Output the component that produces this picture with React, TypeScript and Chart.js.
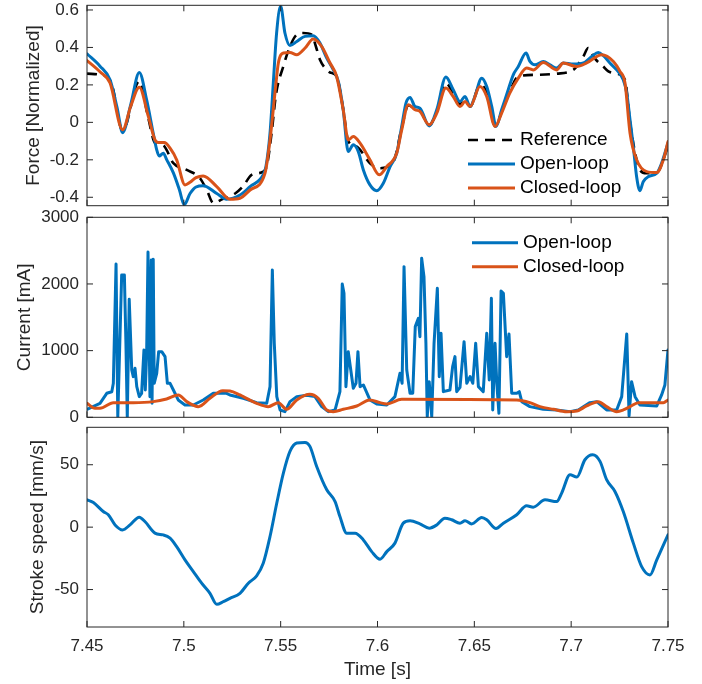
import React, { useEffect, useRef } from 'react';
import { Chart, registerables } from 'chart.js';

Chart.register(...registerables);

const FONT = '"Liberation Sans", Arial, Helvetica, sans-serif';
const AX = '#262626';
const BLUE = '#0072BD';
const ORANGE = '#D95319';

// ---- tick labels ----
const timeTicks = [7.45, 7.5, 7.55, 7.6, 7.65, 7.7, 7.75];
const forceTicks = [-0.4, -0.2, 0, 0.2, 0.4, 0.6];
const currentTicks = [0, 1000, 2000, 3000];
const speedTicks = [-50, 0, 50];

// ---- Force [Normalized] ----
const refForceT = [7.45, 7.4567, 7.461, 7.4629, 7.4684, 7.477, 7.4815, 7.4851, 7.4894, 7.4946, 7.5015, 7.5083, 7.5118, 7.5152, 7.52, 7.5265, 7.5307, 7.535, 7.541, 7.5429, 7.5454, 7.5476, 7.5514, 7.5548, 7.5583, 7.5617, 7.566, 7.5682, 7.5703, 7.5729, 7.5755, 7.5789, 7.5823, 7.5849, 7.5893, 7.5961, 7.6009, 7.6082, 7.6125, 7.6159, 7.6194, 7.6219, 7.6267, 7.6306, 7.6353, 7.6391, 7.6426, 7.6452, 7.6478, 7.6529, 7.6564, 7.6607, 7.6641, 7.6683, 7.6727, 7.6822, 7.6925, 7.7011, 7.7063, 7.7088, 7.7123, 7.7166, 7.7192, 7.7235, 7.7278, 7.7304, 7.7338, 7.7355, 7.739, 7.7442, 7.75];
const refForce = [0.26, 0.254, 0.236, 0.2, -0.045, 0.22, 0.03, -0.11, -0.124, -0.218, -0.254, -0.298, -0.36, -0.43, -0.41, -0.38, -0.34, -0.28, -0.263, -0.23, -0.05, 0.15, 0.3, 0.405, 0.468, 0.477, 0.468, 0.405, 0.334, 0.29, 0.266, 0.245, 0.07, -0.1, -0.13, -0.218, -0.245, -0.21, -0.03, 0.09, 0.075, 0.065, -0.015, 0.06, 0.21, 0.155, 0.097, 0.125, 0.084, 0.2, 0.16, -0.02, 0.055, 0.165, 0.245, 0.254, 0.26, 0.28, 0.352, 0.397, 0.34, 0.298, 0.272, 0.26, 0.227, 0.0, -0.2, -0.254, -0.272, -0.268, -0.13];

const openForceT = [7.45, 7.4567, 7.4619, 7.4655, 7.4684, 7.4727, 7.477, 7.4808, 7.4842, 7.486, 7.4873, 7.4894, 7.4912, 7.4946, 7.4977, 7.5002, 7.5032, 7.5063, 7.51, 7.517, 7.5221, 7.529, 7.5342, 7.541, 7.5424, 7.5445, 7.5462, 7.5479, 7.55, 7.5522, 7.5548, 7.5583, 7.5626, 7.5668, 7.5703, 7.5738, 7.5772, 7.5798, 7.5823, 7.5849, 7.5875, 7.5901, 7.5927, 7.5961, 7.5996, 7.603, 7.6065, 7.6099, 7.6125, 7.6147, 7.6168, 7.6194, 7.6219, 7.6267, 7.6306, 7.6353, 7.6391, 7.6426, 7.6452, 7.6478, 7.6503, 7.6538, 7.6564, 7.659, 7.6612, 7.6641, 7.6675, 7.6701, 7.6727, 7.6767, 7.6787, 7.6813, 7.6856, 7.6891, 7.6925, 7.6959, 7.7011, 7.7063, 7.7106, 7.714, 7.7166, 7.72, 7.7235, 7.7269, 7.7287, 7.7304, 7.7321, 7.7338, 7.7355, 7.7372, 7.7398, 7.7442, 7.7467, 7.75];
const openForce = [0.366, 0.3, 0.227, 0.08, -0.055, 0.1, 0.266, 0.12, -0.058, -0.147, -0.18, -0.165, -0.2, -0.27, -0.36, -0.44, -0.38, -0.345, -0.338, -0.38, -0.41, -0.388, -0.343, -0.28, -0.236, -0.058, 0.21, 0.477, 0.62, 0.477, 0.41, 0.432, 0.459, 0.462, 0.423, 0.343, 0.28, 0.218, 0.067, -0.156, -0.12, -0.156, -0.254, -0.334, -0.365, -0.325, -0.236, -0.165, -0.022, 0.103, 0.133, 0.084, 0.076, -0.019, 0.067, 0.242, 0.174, 0.111, 0.138, 0.084, 0.138, 0.236, 0.191, 0.084, -0.022, 0.067, 0.174, 0.254, 0.298, 0.37, 0.325, 0.307, 0.325, 0.307, 0.29, 0.317, 0.311, 0.317, 0.352, 0.373, 0.356, 0.317, 0.28, 0.227, 0.156, 0.013, -0.13, -0.29, -0.365, -0.317, -0.29, -0.272, -0.218, -0.11];

const closedForceT = [7.45, 7.4567, 7.4619, 7.4684, 7.4727, 7.477, 7.4817, 7.4851, 7.4868, 7.4899, 7.4929, 7.4963, 7.5006, 7.5032, 7.5063, 7.51, 7.517, 7.5238, 7.529, 7.5342, 7.5419, 7.5445, 7.5474, 7.5488, 7.5514, 7.5548, 7.5583, 7.5626, 7.5668, 7.5712, 7.5755, 7.5789, 7.5823, 7.5849, 7.5875, 7.591, 7.5961, 7.6009, 7.6048, 7.6099, 7.6125, 7.6159, 7.6194, 7.6219, 7.6267, 7.6306, 7.6353, 7.6391, 7.6426, 7.6452, 7.6478, 7.6529, 7.6564, 7.6607, 7.6641, 7.6683, 7.6727, 7.677, 7.6804, 7.6856, 7.6925, 7.6959, 7.7028, 7.708, 7.7158, 7.7218, 7.7252, 7.7278, 7.7304, 7.7338, 7.739, 7.7442, 7.7476, 7.75];
const closedForce = [0.33, 0.27, 0.21, -0.04, 0.09, 0.188, 0.031, -0.094, -0.108, -0.108, -0.138, -0.2, -0.334, -0.32, -0.295, -0.286, -0.343, -0.41, -0.405, -0.361, -0.272, -0.094, 0.191, 0.317, 0.37, 0.373, 0.361, 0.397, 0.445, 0.405, 0.317, 0.245, 0.067, -0.094, -0.076, -0.111, -0.2, -0.28, -0.236, -0.165, -0.04, 0.094, 0.067, 0.058, -0.013, 0.049, 0.183, 0.138, 0.084, 0.111, 0.084, 0.191, 0.138, -0.022, 0.049, 0.156, 0.236, 0.29, 0.28, 0.32, 0.28, 0.317, 0.298, 0.317, 0.361, 0.325, 0.272, 0.21, -0.058, -0.2, -0.263, -0.268, -0.2, -0.103];

// ---- Current [mA] ----
const openCurrentT = [7.45, 7.4567, 7.4602, 7.4628, 7.4636, 7.465, 7.4659, 7.4679, 7.4693, 7.4701, 7.4708, 7.4718, 7.4731, 7.4739, 7.4748, 7.4757, 7.477, 7.4782, 7.4794, 7.4801, 7.4808, 7.4815, 7.4825, 7.4832, 7.4836, 7.4842, 7.4847, 7.486, 7.487, 7.4886, 7.4903, 7.4915, 7.4929, 7.4946, 7.4971, 7.5006, 7.5049, 7.51, 7.5152, 7.5221, 7.5238, 7.5307, 7.5376, 7.5428, 7.5445, 7.5457, 7.5467, 7.548, 7.5497, 7.5522, 7.5548, 7.5583, 7.5634, 7.5677, 7.5712, 7.5746, 7.5781, 7.5806, 7.5818, 7.5827, 7.5837, 7.5849, 7.5862, 7.5875, 7.5889, 7.5899, 7.591, 7.5927, 7.5961, 7.5996, 7.6048, 7.609, 7.6116, 7.6127, 7.6137, 7.6151, 7.6168, 7.6182, 7.6195, 7.6211, 7.6219, 7.6228, 7.624, 7.625, 7.6257, 7.6267, 7.628, 7.6292, 7.6309, 7.6319, 7.6328, 7.634, 7.6374, 7.6388, 7.64, 7.6409, 7.6426, 7.6447, 7.6461, 7.6478, 7.6492, 7.6507, 7.6521, 7.6546, 7.6564, 7.6577, 7.6588, 7.6595, 7.6607, 7.6616, 7.6627, 7.6638, 7.665, 7.6667, 7.6679, 7.6693, 7.6719, 7.6732, 7.6745, 7.6787, 7.6856, 7.6925, 7.6994, 7.7037, 7.7097, 7.7132, 7.7183, 7.7235, 7.7261, 7.7287, 7.7299, 7.7312, 7.733, 7.7355, 7.7442, 7.7467, 7.7484, 7.75];
const openCurrent = [120, 210, 360, 384, 510, 2300, 10, 2135, 2135, 1110, 0, 1770, 710, 610, 735, 460, 310, 360, 1010, 410, 960, 2480, 310, 2360, 210, 2370, 510, 660, 985, 985, 910, 510, 510, 410, 260, 185, 185, 260, 360, 360, 335, 285, 220, 210, 460, 2210, 1110, 310, 110, 85, 235, 310, 330, 310, 160, 85, 110, 385, 2000, 1860, 460, 985, 710, 435, 510, 985, 460, 485, 260, 200, 185, 310, 660, 510, 2260, 710, 360, 360, 1360, 1485, 1210, 2385, 2110, 1110, 10, 535, 10, 1110, 1935, 610, 1260, 385, 410, 760, 910, 385, 450, 1135, 510, 610, 510, 1110, 460, 385, 1260, 560, 1785, 110, 1110, 510, 60, 1895, 1860, 910, 1250, 360, 360, 385, 235, 160, 120, 110, 85, 110, 220, 235, 110, 110, 310, 1250, 20, 535, 310, 185, 170, 335, 485, 1010];

const closedCurrentT = [7.45, 7.4541, 7.4567, 7.4636, 7.4739, 7.4842, 7.4911, 7.4971, 7.5015, 7.5075, 7.5135, 7.5201, 7.5238, 7.529, 7.5307, 7.5376, 7.5436, 7.5488, 7.5531, 7.5583, 7.5651, 7.5694, 7.5738, 7.5772, 7.5823, 7.5893, 7.5961, 7.6013, 7.6048, 7.6125, 7.6719, 7.6787, 7.6839, 7.6908, 7.6977, 7.7029, 7.708, 7.714, 7.7183, 7.7235, 7.7269, 7.7304, 7.7347, 7.7476, 7.75];
const closedCurrent = [210, 135, 135, 220, 220, 235, 275, 335, 235, 160, 285, 400, 395, 335, 310, 210, 160, 220, 120, 260, 345, 285, 110, 85, 120, 170, 260, 220, 200, 270, 260, 220, 160, 120, 85, 95, 170, 235, 160, 85, 110, 160, 220, 220, 260];

// ---- Stroke speed [mm/s] ----
const speedT = [7.45, 7.4533, 7.4584, 7.461, 7.4645, 7.4684, 7.4722, 7.477, 7.4799, 7.4851, 7.4894, 7.4929, 7.4963, 7.5006, 7.5049, 7.5092, 7.5135, 7.517, 7.5204, 7.5238, 7.529, 7.5333, 7.5376, 7.541, 7.5445, 7.548, 7.5514, 7.5548, 7.5583, 7.5626, 7.5651, 7.5686, 7.5738, 7.5781, 7.5806, 7.5841, 7.5884, 7.5927, 7.597, 7.6013, 7.6048, 7.609, 7.6133, 7.6168, 7.6219, 7.6267, 7.6306, 7.6348, 7.6383, 7.6426, 7.6452, 7.6486, 7.6538, 7.6564, 7.6612, 7.665, 7.6719, 7.677, 7.6804, 7.6865, 7.6925, 7.6951, 7.6994, 7.7029, 7.7071, 7.7111, 7.7149, 7.7183, 7.7226, 7.7269, 7.7321, 7.7364, 7.7407, 7.7442, 7.75];
const speed = [21.9, 19.7, 12.5, 9.9, 1.8, -2.2, 1.8, 8, 4.5, -4.8, -6.2, -8.8, -15.6, -26.2, -35.6, -44.9, -53, -61.8, -59.7, -57, -53, -44.9, -39, -28.9, -7.5, 19.3, 43.3, 60.7, 67.4, 67.9, 64.7, 48.6, 29.9, 20.5, 8.5, -4.8, -4.8, -10.2, -19.6, -25.7, -19.6, -12.8, 3.2, 5.1, 2.6, -0.8, 1.8, 7.2, 5.9, 3.2, 5.1, 2.6, 7.7, 5.9, -1.1, 3.2, 9.9, 17.1, 16, 21.9, 20.5, 27.3, 42, 40.1, 54, 58, 52.7, 38, 28.6, 12.5, -12.8, -31.6, -38.3, -26.2, -6.2];

const pts = (t: number[], v: number[]) => t.map((x, i) => ({ x, y: v[i] }));

function framePlugin(xTicks: number[], yTicks: number[]) {
  return {
    id: 'frame',
    afterDatasetsDraw(chart: any) {
      const { ctx, chartArea: a, scales } = chart;
      const L = 6;
      ctx.save();
      ctx.strokeStyle = AX;
      ctx.lineWidth = 1;
      ctx.setLineDash([]);
      ctx.strokeRect(a.left, a.top, a.right - a.left, a.bottom - a.top);
      ctx.beginPath();
      xTicks.forEach((v) => {
        const p = scales.x.getPixelForValue(v);
        ctx.moveTo(p, a.bottom);
        ctx.lineTo(p, a.bottom - L);
        ctx.moveTo(p, a.top);
        ctx.lineTo(p, a.top + L);
      });
      yTicks.forEach((v) => {
        const p = scales.y.getPixelForValue(v);
        ctx.moveTo(a.left, p);
        ctx.lineTo(a.left + L, p);
        ctx.moveTo(a.right, p);
        ctx.lineTo(a.right - L, p);
      });
      ctx.stroke();
      ctx.restore();
    },
  };
}

type LegItem = { label: string; color: string; width: number; dash?: number[] };
function legendPlugin(items: LegItem[], fromRight: number, len: number, y0: number, dy: number) {
  return {
    id: 'customLegend',
    afterDraw(chart: any) {
      const { ctx, chartArea: a } = chart;
      ctx.save();
      ctx.font = `19px ${FONT}`;
      ctx.textBaseline = 'middle';
      ctx.textAlign = 'left';
      items.forEach((it, i) => {
        const y = a.top + y0 + i * dy;
        const x0 = a.right - fromRight;
        ctx.strokeStyle = it.color;
        ctx.lineWidth = it.width;
        ctx.setLineDash(it.dash || []);
        ctx.beginPath();
        ctx.moveTo(x0, y);
        ctx.lineTo(x0 + len, y);
        ctx.stroke();
        ctx.setLineDash([]);
        ctx.fillStyle = '#000';
        ctx.fillText(it.label, x0 + len + 5, y);
      });
      ctx.restore();
    },
  };
}

type Opt = {
  yMin: number; yMax: number; yTicks: number[]; yTitle: string; yTitlePad: number;
  showX: boolean; padding: any;
};
function makeOptions(p: Opt): any {
  return {
    responsive: false,
    animation: false,
    devicePixelRatio: 1,
    layout: { padding: p.padding },
    plugins: { legend: { display: false }, tooltip: { enabled: false } },
    elements: { point: { radius: 0, hoverRadius: 0 } },
    events: [],
    scales: {
      x: {
        type: 'linear',
        min: 7.45,
        max: 7.75,
        display: p.showX,
        afterBuildTicks: (s: any) => { s.ticks = timeTicks.map((v) => ({ value: v })); },
        afterFit: (s: any) => {
          if (p.showX) s.height = 57;
          s.paddingLeft = 0; s.paddingRight = 0; s.paddingTop = 0; s.paddingBottom = 0;
        },
        grid: { display: false, drawTicks: false },
        border: { display: false },
        ticks: {
          padding: 9, color: AX, font: { family: FONT, size: 17 },
          maxRotation: 0, minRotation: 0, autoSkip: false,
          callback: (v: any) => String(v),
        },
        title: {
          display: p.showX, text: 'Time [s]', color: AX,
          font: { family: FONT, size: 19 }, padding: { top: 0, bottom: 3 },
        },
      },
      y: {
        type: 'linear',
        min: p.yMin,
        max: p.yMax,
        afterBuildTicks: (s: any) => { s.ticks = p.yTicks.map((v) => ({ value: v })); },
        afterFit: (s: any) => {
          s.width = 87;
          s.paddingLeft = 0; s.paddingRight = 0; s.paddingTop = 0; s.paddingBottom = 0;
        },
        grid: { display: false, drawTicks: false },
        border: { display: false },
        ticks: {
          padding: 8, color: AX, font: { family: FONT, size: 17 }, autoSkip: false,
          callback: (v: any) => String(v),
        },
        title: {
          display: true, text: p.yTitle, color: AX,
          font: { family: FONT, size: 19 }, padding: { top: p.yTitlePad, bottom: 0 },
        },
      },
    },
  };
}

const smooth = { cubicInterpolationMode: 'monotone' as const, pointRadius: 0, borderJoinStyle: 'round' as const, borderCapStyle: 'round' as const };

export default function App() {
  const r1 = useRef<HTMLCanvasElement>(null);
  const r2 = useRef<HTMLCanvasElement>(null);
  const r3 = useRef<HTMLCanvasElement>(null);

  useEffect(() => {
    const charts: Chart[] = [];
    charts.push(new Chart(r1.current as HTMLCanvasElement, {
      type: 'line',
      data: {
        datasets: [
          { label: 'Closed-loop', data: pts(closedForceT, closedForce), borderColor: ORANGE, borderWidth: 3, order: 0, ...smooth },
          { label: 'Open-loop', data: pts(openForceT, openForce), borderColor: BLUE, borderWidth: 3, order: 1, ...smooth },
          { label: 'Reference', data: pts(refForceT, refForce), borderColor: '#000', borderWidth: 2.6, borderDash: [10, 7], order: 2, ...smooth, borderCapStyle: 'butt' },
        ] as any,
      },
      options: makeOptions({
        yMin: -0.445, yMax: 0.625, yTicks: forceTicks, yTitle: 'Force [Normalized]', yTitlePad: 22.6,
        showX: false, padding: { left: 0, right: 34, top: 5.3, bottom: 8.3 },
      }),
      plugins: [
        framePlugin(timeTicks, forceTicks),
        legendPlugin([
          { label: 'Reference', color: '#000', width: 2.6, dash: [10, 7] },
          { label: 'Open-loop', color: BLUE, width: 3 },
          { label: 'Closed-loop', color: ORANGE, width: 3 },
        ], 200, 47, 134.7, 24),
      ],
    }));

    charts.push(new Chart(r2.current as HTMLCanvasElement, {
      type: 'line',
      data: {
        datasets: [
          { label: 'Closed-loop', data: pts(closedCurrentT, closedCurrent), borderColor: ORANGE, borderWidth: 3, order: 0, ...smooth },
          { label: 'Open-loop', data: pts(openCurrentT, openCurrent), borderColor: BLUE, borderWidth: 3, order: 1, tension: 0, pointRadius: 0, borderJoinStyle: 'round', borderCapStyle: 'round' },
        ] as any,
      },
      options: makeOptions({
        yMin: 0, yMax: 3000, yTicks: currentTicks, yTitle: 'Current [mA]', yTitlePad: 13.6,
        showX: false, padding: { left: 0, right: 34, top: 9.3, bottom: 4.7 },
      }),
      plugins: [
        framePlugin(timeTicks, currentTicks),
        legendPlugin([
          { label: 'Open-loop', color: BLUE, width: 3 },
          { label: 'Closed-loop', color: ORANGE, width: 3 },
        ], 196, 46, 25.4, 24),
      ],
    }));

    charts.push(new Chart(r3.current as HTMLCanvasElement, {
      type: 'line',
      data: {
        datasets: [
          { label: 'Stroke speed', data: pts(speedT, speed), borderColor: BLUE, borderWidth: 3, ...smooth },
        ] as any,
      },
      options: makeOptions({
        yMin: -80, yMax: 80, yTicks: speedTicks, yTitle: 'Stroke speed [mm/s]', yTitlePad: 26.6,
        showX: true, padding: { left: 0, right: 34, top: 9.3, bottom: 0 },
      }),
      plugins: [framePlugin(timeTicks, speedTicks)],
    }));

    return () => charts.forEach((c) => c.destroy());
  }, []);

  const cs = (top: number): React.CSSProperties => ({ position: 'absolute', left: 0, top });
  return (
    <div style={{ position: 'absolute', left: 0, top: 0, width: 702, height: 684, background: '#fff' }}>
      <canvas ref={r1} width={702} height={214} style={cs(0)} />
      <canvas ref={r2} width={702} height={214} style={cs(208)} />
      <canvas ref={r3} width={702} height={266} style={cs(418)} />
    </div>
  );
}
